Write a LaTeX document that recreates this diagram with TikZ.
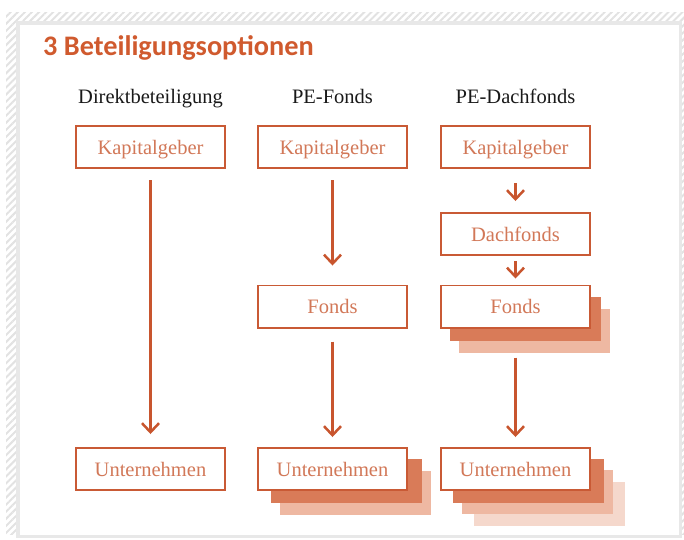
\documentclass[tikz,border=0pt]{standalone}
\usepackage{fontspec}
\setmainfont{Liberation Serif}
\newfontfamily\titlefont{Carlito}
\usetikzlibrary{arrows.meta,patterns.meta,calc}
\definecolor{titlec}{HTML}{D05A2E}
\definecolor{boxc}{HTML}{C95A35}
\definecolor{boxtext}{HTML}{D27858}
\definecolor{arrc}{HTML}{C8552E}
\definecolor{shA}{HTML}{D97B58}
\definecolor{shB}{HTML}{EEB8A2}
\definecolor{shC}{HTML}{F5D8CC}
\definecolor{frameg}{HTML}{E8E8E8}
\definecolor{hatchg}{HTML}{E2E2E2}
\pgfdeclarelayer{bg}
\pgfdeclarelayer{shad}
\pgfsetlayers{bg,shad,main}
\newcommand\myshad[4]{\fill[#4] ($(#1.north west)+(#2,#3)$) rectangle ($(#1.south east)+(#2,#3)$);}
\tikzset{
  stepbox/.style={draw=boxc, line width=1.6pt, fill=white, minimum width=149.4pt, minimum height=42.4pt,
    inner sep=0pt, text height=14pt, text depth=0pt, text=boxtext, font=\fontsize{20.5}{24}\selectfont},
  header/.style={text=black!90, font=\fontsize{20.5}{24}\selectfont, inner sep=0pt, text height=14pt, text depth=0pt},
  arr/.style={draw=arrc, line width=2.5pt, -{Straight Barb[length=9pt,width=17pt]}},
}
\begin{document}
\begin{tikzpicture}[x=1pt,y=-1pt]
\useasboundingbox (0,0) rectangle (684,539);
\begin{pgfonlayer}{bg}
  \fill[pattern={Lines[angle=45,distance=5pt,line width=2pt]}, pattern color=hatchg] (6,12) rectangle (684,534);
  \draw[frameg, line width=3.5pt, fill=white] (18,23) rectangle (680.5,536.5);
\end{pgfonlayer}

\node[anchor=base west, text=titlec, font=\titlefont\bfseries\fontsize{28.3}{32}\selectfont, inner sep=0pt] (title) at (43,55) {3 Beteiligungsoptionen};

\node[header] (h1) at (150.5,96) {Direktbeteiligung};
\node[header] (h2) at (332.5,96) {PE-Fonds};
\node[header] (h3) at (515.5,96) {PE-Dachfonds};

\node[stepbox] (k1) at (150.5,147) {Kapitalgeber};
\node[stepbox] (k2) at (332.5,147) {Kapitalgeber};
\node[stepbox] (k3) at (515.5,147) {Kapitalgeber};
\node[stepbox] (d3) at (515.5,234) {Dachfonds};
\node[stepbox] (f2) at (332.5,306.5) {Fonds};
\node[stepbox] (f3) at (515.5,306.5) {Fonds};
\node[stepbox] (u1) at (150.5,469) {Unternehmen};
\node[stepbox] (u2) at (332.5,469) {Unternehmen};
\node[stepbox] (u3) at (515.5,469) {Unternehmen};

\begin{pgfonlayer}{shad}
  \myshad{f3}{18.5}{24}{shB}
  \myshad{f3}{9.5}{12}{shA}
  \myshad{u2}{23}{24}{shB}
  \myshad{u2}{14}{12}{shA}
  \myshad{u3}{33.5}{35}{shC}
  \myshad{u3}{22}{23}{shB}
  \myshad{u3}{13}{12}{shA}
\end{pgfonlayer}

\draw[arr, shorten <=11pt, shorten >=13pt] (k1.south) -- (u1.north);
\draw[arr, shorten <=11pt, shorten >=19pt] (k2.south) -- (f2.north);
\draw[arr, shorten <=13pt, shorten >=10pt] (f2.south) -- (u2.north);
\draw[arr, shorten <=14pt, shorten >=11pt] (k3.south) -- (d3.north);
\draw[arr, shorten <=5pt, shorten >=6pt] (d3.south) -- (f3.north);
\draw[arr, shorten <=29pt, shorten >=10pt] (f3.south) -- (u3.north);
\end{tikzpicture}
\end{document}
